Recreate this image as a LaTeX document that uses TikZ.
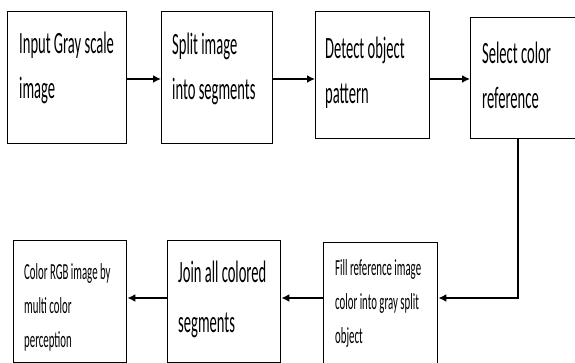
\documentclass[tikz,border=0pt]{standalone}
\usepackage{fontspec}
\newfontfamily\boxfont[FakeStretch=0.47]{Carlito}
\usetikzlibrary{arrows.meta}
\tikzstyle{box}=[draw=black,line width=1.4pt,anchor=north west,inner sep=0pt]
\tikzstyle{txt}=[anchor=base west,align=left,inner sep=0pt,font=\boxfont\fontsize{31}{45}\selectfont]
\tikzstyle{small}=[font=\boxfont\fontsize{23}{34}\selectfont]
\tikzstyle{arr}=[line width=1.8pt,-{Latex[length=8pt,width=8pt]}]

\begin{document}
\begin{tikzpicture}[x=1pt,y=-1pt]
	\useasboundingbox (0,0) rectangle (575,363);
	%boxes
	\node[box,minimum width=119pt,minimum height=132pt] (input) at (7,11) {};
	\node[box,minimum width=111pt,minimum height=132pt] (split) at (161,11) {};
	\node[box,minimum width=114pt,minimum height=127pt] (detect) at (315,11) {};
	\node[box,minimum width=106pt,minimum height=121pt] (select) at (470,17) {};
	\node[box,minimum width=114pt,minimum height=124pt] (fill) at (323,242) {};
	\node[box,minimum width=113pt,minimum height=122pt] (join) at (167,240) {};
	\node[box,minimum width=113pt,minimum height=122pt] (rgb) at (13,240) {};
	%texts (anchored at the last line)
	\node[txt] (inputtxt) at (19,99) {Input Gray scale\\image};
	\node[txt] (splittxt) at (172,100) {Split image\\into segments};
	\node[txt] (detecttxt) at (325,104) {Detect object\\pattern};
	\node[txt] (selecttxt) at (482,109) {Select color\\reference};
	\node[txt,small] (filltxt) at (335,343) {Fill reference image\\color into gray split\\object};
	\node[txt,font=\boxfont\fontsize{31}{50}\selectfont] (jointxt) at (178,332) {Join all colored\\segments};
	\node[txt,small] (rgbtxt) at (24,347) {Color RGB image by\\multi color\\perception};
	%arrows
	\coordinate (row1) at (0,79);
	\coordinate (row2) at (0,298);
	\coordinate (turn) at (518,298);
	\draw[arr] (input.east |- row1) -- (split.west |- row1);
	\draw[arr] (split.east |- row1) -- (detect.west |- row1);
	\draw[arr] (detect.east |- row1) -- (select.west |- row1);
	\draw[arr] (select.south -| turn) -- (turn) -- (fill.east |- turn);
	\draw[arr] (fill.west |- row2) -- (join.east |- row2);
	\draw[arr] (join.west |- row2) -- (rgb.east |- row2);
\end{tikzpicture}
\end{document}
